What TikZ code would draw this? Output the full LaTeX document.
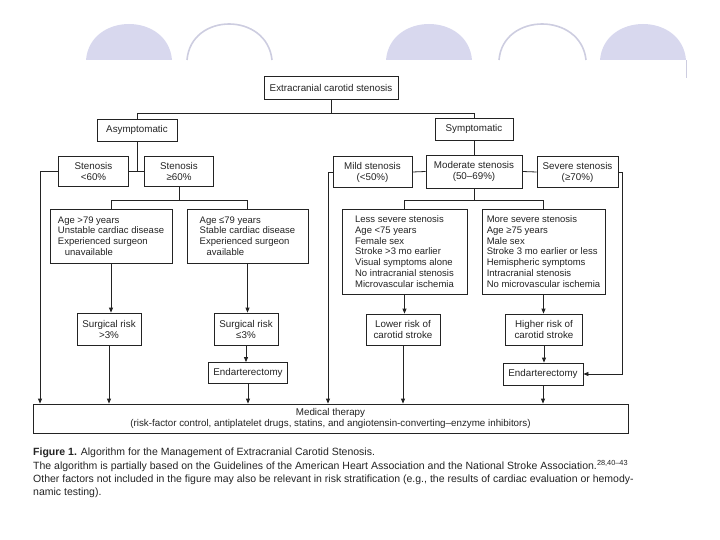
\documentclass[tikz,border=0pt]{standalone}
\usepackage{fontspec}
\setmainfont{Liberation Sans}
\usetikzlibrary{arrows.meta}
\definecolor{disc}{RGB}{216,216,238}
\definecolor{arcc}{RGB}{205,205,224}
\definecolor{ink}{RGB}{35,35,35}
\begin{document}
\begin{tikzpicture}[x=1pt,y=-1pt,
  box/.style={draw=ink,line width=0.8pt,inner sep=0pt,align=center,
    font=\fontsize{9.8}{11}\selectfont,text=ink},
  lbox/.style={box,align=left,font=\fontsize{9.5}{10.8}\selectfont},
  link/.style={draw=ink,line width=0.8pt},
  arr/.style={link,-{Triangle[length=5pt,width=4pt]}},
  captext/.style={anchor=base west,inner sep=0pt,text=ink,font=\fontsize{10.5}{12}\selectfont}]
\useasboundingbox (0,0) rectangle (720,540);
% decorative domes
\fill[disc] (86,60) .. controls (90,12) and (168,12) .. (172,60) -- cycle;
\draw[arcc,line width=1.6pt] (187,60) .. controls (191,12) and (267,12) .. (272,60);
\fill[disc] (386,60) .. controls (390,12) and (468,12) .. (472,60) -- cycle;
\draw[arcc,line width=1.6pt] (499,60) .. controls (503,12) and (581,12) .. (586,60);
\fill[disc] (600,60) .. controls (604,12) and (682,12) .. (686,60) -- cycle;
\draw[arcc,line width=1pt] (686,60) -- (686,78);
% nodes
\node[box,minimum width=134,minimum height=23] (top) at (331,87.5) {Extracranial carotid stenosis};
\node[box,minimum width=80,minimum height=22] (asym) at (137,130) {Asymptomatic};
\node[box,minimum width=78,minimum height=22] (symp) at (474,129) {Symptomatic};
\node[box,minimum width=70,minimum height=30] (sa) at (93.5,171) {Stenosis\\<60\%};
\node[box,minimum width=69,minimum height=30] (sb) at (179,171) {Stenosis\\≥60\%};
\node[box,minimum width=79,minimum height=31] (mild) at (372.5,172) {Mild stenosis\\(<50\%)};
\node[box,minimum width=96,minimum height=33] (moder) at (474,171.5) {Moderate stenosis\\(50–69\%)};
\node[box,minimum width=81,minimum height=31] (severe) at (577.5,172) {Severe stenosis\\(≥70\%)};
\node[lbox,minimum width=122,minimum height=54] (agea) at (111,236) {Age >79 years\\Unstable cardiac disease\\Experienced surgeon\\\hspace*{7pt}unavailable};
\node[lbox,minimum width=121,minimum height=54] (ageb) at (247.5,236) {Age ≤79 years\\Stable cardiac disease\\Experienced surgeon\\\hspace*{7pt}available};
\node[lbox,minimum width=125,minimum height=85] (less) at (404.5,251.5) {Less severe stenosis\\Age <75 years\\Female sex\\Stroke >3 mo earlier\\Visual symptoms alone\\No intracranial stenosis\\Microvascular ischemia};
\node[lbox,minimum width=123,minimum height=85] (more) at (543.5,251.5) {More severe stenosis\\Age ≥75 years\\Male sex\\Stroke 3 mo earlier or less\\Hemispheric symptoms\\Intracranial stenosis\\No microvascular ischemia};
\node[box,minimum width=64,minimum height=32] (sra) at (109,329) {Surgical risk\\>3\%};
\node[box,minimum width=64,minimum height=32] (srb) at (246,329) {Surgical risk\\≤3\%};
\node[box,minimum width=79,minimum height=21] (enda) at (248,373) {Endarterectomy};
\node[box,minimum width=74,minimum height=31] (lower) at (403,329.5) {Lower risk of\\carotid stroke};
\node[box,minimum width=77,minimum height=31] (higher) at (544,329.5) {Higher risk of\\carotid stroke};
\node[box,minimum width=80,minimum height=22] (endb) at (543,374) {Endarterectomy};
\node[box,minimum width=595,minimum height=29] (med) at (330.5,418.5) {Medical therapy\\(risk-factor control, antiplatelet drugs, statins, and angiotensin-converting–enzyme inhibitors)};
% coordinates
\coordinate (lx) at (40,171);
\coordinate (mx) at (328,172);
\coordinate (rx) at (622,172);
% connectors
\draw[link] (top.south) -- ++(0,14) -| (asym.north);
\draw[link] (top.south) -- ++(0,14) -| (symp.north);
\draw[link] (asym.south) -- (asym.south |- sa.east);
\draw[link] (sa.east) -- (sb.west);
\draw[arr] (sa.west) -- (lx) -- (lx |- med.north);
\draw[link] (sb.south) -- ++(0,14) -| (agea.north);
\draw[link] (sb.south) -- ++(0,14) -| (ageb.north);
\draw[arr] (agea.south) -- (agea.south |- sra.north);
\draw[arr] (ageb.south) -- (ageb.south |- srb.north);
\draw[arr] (sra.south) -- (sra.south |- med.north);
\draw[arr] (srb.south) -- (srb.south |- enda.north);
\draw[arr] (enda.south) -- (enda.south |- med.north);
\draw[link] (symp.south) -- (moder.north);
\draw[link] (mild.east) -- (moder.west);
\draw[link] (moder.east) -- (severe.west);
\draw[arr] (mild.west) -- (mx) -- (mx |- med.north);
\draw[link] (moder.south) -- ++(0,12) -| (less.north);
\draw[link] (moder.south) -- ++(0,12) -| (more.north);
\draw[arr] (less.south) -- (less.south |- lower.north);
\draw[arr] (lower.south) -- (lower.south |- med.north);
\draw[arr] (more.south) -- (more.south |- higher.north);
\draw[arr] (higher.south) -- (higher.south |- endb.north);
\draw[arr] (endb.south) -- (endb.south |- med.north);
\draw[arr] (severe.east) -- (rx) -- (rx |- endb.east) -- (endb.east);
% caption
\node[captext] (c1) at (33,455) {\textbf{Figure 1.} Algorithm for the Management of Extracranial Carotid Stenosis.};
\node[captext] (c2) at (33,469.5) {The algorithm is partially based on the Guidelines of the American Heart Association and the National Stroke Association.\textsuperscript{28,40–43}};
\node[captext] (c3) at (33,482) {Other factors not included in the figure may also be relevant in risk stratification (e.g., the results of cardiac evaluation or hemody-};
\node[captext] (c4) at (33,495) {namic testing).};
\end{tikzpicture}
\end{document}
